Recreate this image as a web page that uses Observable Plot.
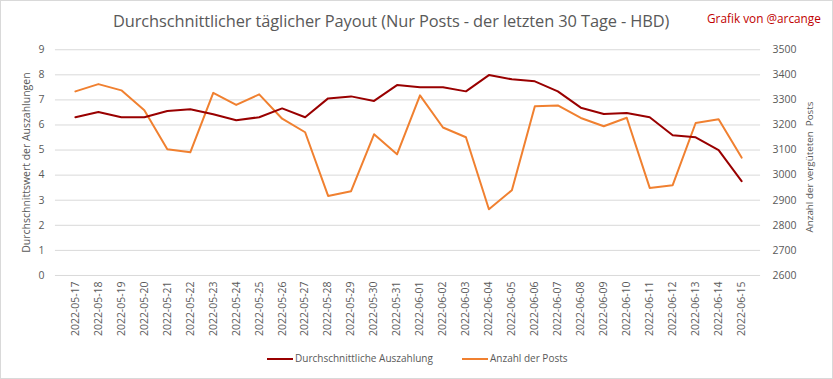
<!DOCTYPE html>
<html><head><meta charset="utf-8">
<script src="https://cdn.jsdelivr.net/npm/d3@7"></script>
<script src="https://cdn.jsdelivr.net/npm/@observablehq/plot@0.6"></script>
<style>
html,body{margin:0;padding:0;background:#fff;}
#wrap{position:relative;width:831px;height:377px;border:1px solid #d9d9d9;overflow:hidden;font-family:"Open Sans",sans-serif;}
#title{position:absolute;left:112px;top:8px;font-size:16.4px;color:#595959;white-space:nowrap;letter-spacing:-0.1px;}
#credit{position:absolute;left:706px;top:9px;font-size:11.8px;color:#c00000;white-space:nowrap;}
#chart{position:absolute;left:-1px;top:-1px;}
#rtitle{position:absolute;left:808px;top:166px;font-size:9.8px;color:#595959;white-space:pre;transform:translate(-50%,-50%) rotate(-90deg);}
.leg{position:absolute;top:350px;font-size:10px;color:#595959;white-space:nowrap;}
.sw{display:inline-block;width:26px;height:2px;vertical-align:middle;margin-right:2px;}
</style></head>
<body><div id="wrap">
<div id="title">Durchschnittlicher täglicher Payout (Nur Posts - der letzten 30 Tage - HBD)</div>
<div id="credit">Grafik von @arcange</div>
<div id="chart"></div>
<div id="rtitle">Anzahl der vergüteten  Posts</div>
<div class="leg" style="left:266px"><span class="sw" style="background:#990000"></span>Durchschnittliche Auszahlung</div>
<div class="leg" style="left:461px"><span class="sw" style="background:#f08030"></span>Anzahl der Posts</div>
</div>
<script>
const dates = ["2022-05-17","2022-05-18","2022-05-19","2022-05-20","2022-05-21","2022-05-22","2022-05-23","2022-05-24","2022-05-25","2022-05-26","2022-05-27","2022-05-28","2022-05-29","2022-05-30","2022-05-31","2022-06-01","2022-06-02","2022-06-03","2022-06-04","2022-06-05","2022-06-06","2022-06-07","2022-06-08","2022-06-09","2022-06-10","2022-06-11","2022-06-12","2022-06-13","2022-06-14","2022-06-15"];
const avgPayout = [6.31,6.52,6.31,6.31,6.56,6.63,6.43,6.19,6.31,6.66,6.31,7.06,7.14,6.96,7.59,7.50,7.50,7.34,7.99,7.82,7.74,7.34,6.69,6.44,6.48,6.31,5.59,5.51,5.00,3.76];
const postCount = [3334,3363,3338,3259,3103,3091,3328,3280,3322,3225,3171,2917,2936,3163,3083,3318,3190,3151,2864,2940,3275,3278,3228,3195,3229,2949,2960,3208,3223,3070];
const leftTicks = [0,1,2,3,4,5,6,7,8,9];
const rightTicks = [2600,2700,2800,2900,3000,3100,3200,3300,3400,3500];
const rMin = 2600, rMax = 3500, lMax = 9;
const toLeft = v => (v - rMin) / (rMax - rMin) * lMax;

const payoutData = dates.map((d,i)=>({date:d, v:avgPayout[i]}));
const postData = dates.map((d,i)=>({date:d, v:toLeft(postCount[i])}));

const font = "Open Sans, sans-serif";
const plot = Plot.plot({
  width: 833, height: 379,
  marginTop: 49.3, marginBottom: 103.7, marginLeft: 55, marginRight: 72,
  style: {fontFamily: font, color:"#595959", background:"transparent"},
  x: {type:"point", domain: dates, padding: 0.5},
  y: {domain:[0,9]},
  marks: [
    Plot.gridY(leftTicks, {stroke:"#d9d9d9", strokeOpacity:1, strokeWidth:1}),
    Plot.axisY(leftTicks, {anchor:"left", tickSize:0, tickPadding:11, fontSize:10.5, label:"Durchschnittswert der Auszahlungen", labelAnchor:"center", labelArrow:"none", labelOffset:33}),
    Plot.axisY(rightTicks.map(toLeft), {anchor:"right", tickSize:0, tickPadding:12, fontSize:10.5, tickFormat:(d,i)=>String(rightTicks[i]), textAnchor:"start", label:null}),
    Plot.axisX({tickSize:0, tickPadding:6, tickRotate:-90, fontSize:10.5, label:null}),
    Plot.line(postData, {x:"date", y:"v", stroke:"#f08030", strokeWidth:2, curve:"linear"}),
    Plot.line(payoutData, {x:"date", y:"v", stroke:"#990000", strokeWidth:2, curve:"linear"})
  ]
});
document.getElementById("chart").appendChild(plot);
</script>
</body></html>
